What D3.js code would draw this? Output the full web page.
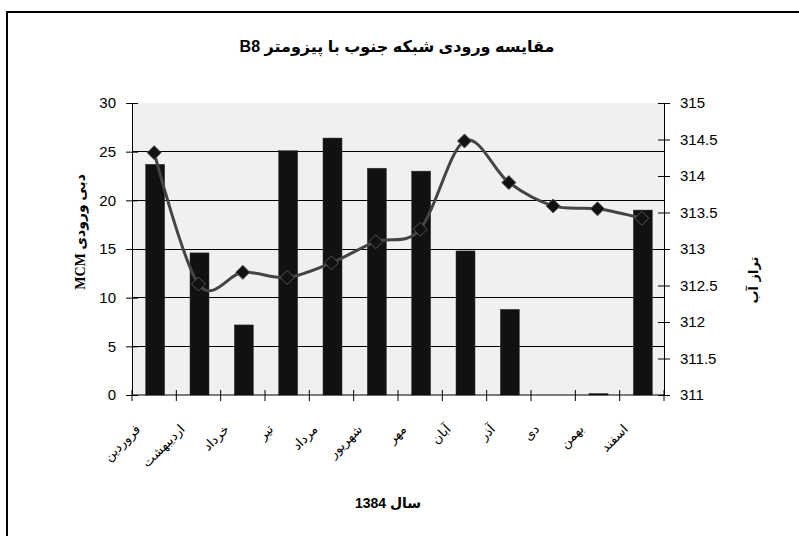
<!DOCTYPE html>
<html>
<head>
<meta charset="utf-8">
<script src="https://cdn.jsdelivr.net/npm/d3@7"></script>
<style>
  body { margin: 0; background: #fff; }
  svg { display: block; }
</style>
</head>
<body>
<div id="chart"></div>
<script>
// months of 1384
const months = ["فروردین", "اردیبهشت", "خرداد", "تیر", "مرداد", "شهریور", "مهر", "آبان", "آذر", "دی", "بهمن", "اسفند"]
// inflow (MCM), bars on left axis
const inflow = [23.7, 14.6, 7.2, 25.1, 26.4, 23.3, 23.0, 14.8, 8.8, 0, 0.15, 19.0]
// water level at piezometer B8, line on right axis
const waterLevel = [314.32, 312.52, 312.68, 312.61, 312.81, 313.10, 313.27, 314.48, 313.91, 313.59, 313.55, 313.42]
const leftTicks = [0, 5, 10, 15, 20, 25, 30]
const rightTicks = [311, 311.5, 312, 312.5, 313, 313.5, 314, 314.5, 315]

const width = 799
const height = 536
const plot = { left: 132, right: 664, top: 103, bottom: 395 }

const svg = d3.select("#chart")
    .append("svg")
    .attr("width", width)
    .attr("height", height)

// outer chart border (runs off the picture on right / bottom)
svg.append("rect")
    .attr("x", 7).attr("y", 12)
    .attr("width", 820).attr("height", 560)
    .attr("fill", "#fff")
    .attr("stroke", "#000")
    .attr("stroke-width", 2)

const x = d3.scaleBand().domain(months).range([plot.left, plot.right]).padding(0)
const yL = d3.scaleLinear().domain([0, 30]).range([plot.bottom, plot.top])
const yR = d3.scaleLinear().domain([311, 315]).range([plot.bottom, plot.top])

// plot background
svg.append("rect")
    .attr("x", plot.left).attr("y", plot.top)
    .attr("width", plot.right - plot.left).attr("height", plot.bottom - plot.top)
    .attr("fill", "#f0f0f0")

// gridlines
svg.append("g")
    .selectAll("line")
    .data(leftTicks.filter(d => d > 0 && d < 30))
    .join("line")
    .attr("x1", plot.left).attr("x2", plot.right)
    .attr("y1", d => yL(d)).attr("y2", d => yL(d))
    .attr("stroke", "#000")
    .attr("stroke-width", 1)
    .attr("shape-rendering", "crispEdges")

// bars
const barW = 19
svg.append("g")
    .selectAll("rect")
    .data(inflow)
    .join("rect")
    .attr("x", (d, i) => x(months[i]) + x.bandwidth() / 2 - barW / 2 + 1)
    .attr("y", d => yL(d))
    .attr("width", barW)
    .attr("height", d => yL(0) - yL(d))
    .attr("fill", "#111")
    .attr("stroke", "#333")
    .attr("stroke-width", 0.5)

// axes
const tickStyle = g => {
    g.select(".domain").attr("stroke", "#000")
    g.selectAll(".tick line").attr("stroke", "#000")
    g.selectAll("text")
        .attr("font-family", "Arial, 'Liberation Sans', sans-serif")
        .attr("font-size", "15px")
        .attr("fill", "#000")
}

svg.append("g")
    .attr("transform", `translate(${plot.left},0)`)
    .call(d3.axisLeft(yL).tickValues(leftTicks).tickSizeInner(6).tickSizeOuter(0).tickPadding(10))
    .call(tickStyle)
    .call(g => g.selectAll(".tick line").attr("x2", 6).attr("x1", -6))

svg.append("g")
    .attr("transform", `translate(${plot.right},0)`)
    .call(d3.axisRight(yR).tickValues(rightTicks).tickFormat(d3.format("")).tickSizeInner(6).tickSizeOuter(0).tickPadding(10))
    .call(tickStyle)
    .call(g => g.selectAll(".tick line").attr("x1", -6).attr("x2", 6))

// category axis: ticks between categories
const xAxis = svg.append("g")
xAxis.append("line")
    .attr("x1", plot.left).attr("x2", plot.right)
    .attr("y1", plot.bottom).attr("y2", plot.bottom)
    .attr("stroke", "#000")
xAxis.selectAll("line.tk")
    .data(months.concat(["end"]))
    .join("line")
    .attr("class", "tk")
    .attr("x1", (d, i) => plot.left + i * x.bandwidth())
    .attr("x2", (d, i) => plot.left + i * x.bandwidth())
    .attr("y1", plot.bottom - 5).attr("y2", plot.bottom + 6)
    .attr("stroke", "#000")

xAxis.selectAll("text")
    .data(months)
    .join("text")
    .attr("transform", d => `translate(${x(d) + x.bandwidth() / 2 - 13},${plot.bottom + 35}) rotate(-45)`)
    .attr("text-anchor", "end")
    .attr("font-family", "'DejaVu Sans', sans-serif")
    .attr("font-size", "13px")
    .attr("fill", "#000")
    .text(d => d)

// water level line
const line = d3.line()
    .x((d, i) => x(months[i]) + x.bandwidth() / 2)
    .y(d => yR(d))
    .curve(d3.curveCardinal.tension(0))

svg.append("path")
    .datum(waterLevel)
    .attr("d", line)
    .attr("fill", "none")
    .attr("stroke", "#444")
    .attr("stroke-width", 3)

const diamond = r => `M0,${-r}L${r},0L0,${r}L${-r},0Z`
svg.append("g")
    .selectAll("path")
    .data(waterLevel)
    .join("path")
    .attr("transform", (d, i) => `translate(${x(months[i]) + x.bandwidth() / 2},${yR(d)})`)
    .attr("d", diamond(7))
    .attr("fill", "#111")
    .attr("stroke", "#555")
    .attr("stroke-width", 1)

// titles
svg.append("text")
    .attr("x", 397).attr("y", 52)
    .attr("text-anchor", "middle")
    .attr("font-family", "Arial, 'Liberation Sans', 'DejaVu Sans', sans-serif")
    .attr("font-weight", "bold")
    .attr("font-size", "16px")
    .attr("direction", "rtl")
    .text("مقایسه ورودی شبکه جنوب با پیزومتر B8")

svg.append("text")
    .attr("x", 388).attr("y", 508)
    .attr("text-anchor", "middle")
    .attr("font-family", "Arial, 'Liberation Sans', 'DejaVu Sans', sans-serif")
    .attr("font-weight", "bold")
    .attr("font-size", "14px")
    .attr("direction", "rtl")
    .text("سال 1384")

svg.append("text")
    .attr("transform", "translate(85,232) rotate(-90)")
    .attr("text-anchor", "middle")
    .attr("font-family", "'Times New Roman', 'Liberation Serif', 'DejaVu Sans', serif")
    .attr("font-weight", "bold")
    .attr("font-size", "14px")
    .attr("direction", "rtl")
    .text("دبی ورودی MCM")

svg.append("text")
    .attr("transform", "translate(758,280) rotate(-90)")
    .attr("text-anchor", "middle")
    .attr("font-family", "'DejaVu Sans', sans-serif")
    .attr("font-weight", "bold")
    .attr("font-size", "13px")
    .attr("direction", "rtl")
    .text("تراز آب")
</script>
</body>
</html>
